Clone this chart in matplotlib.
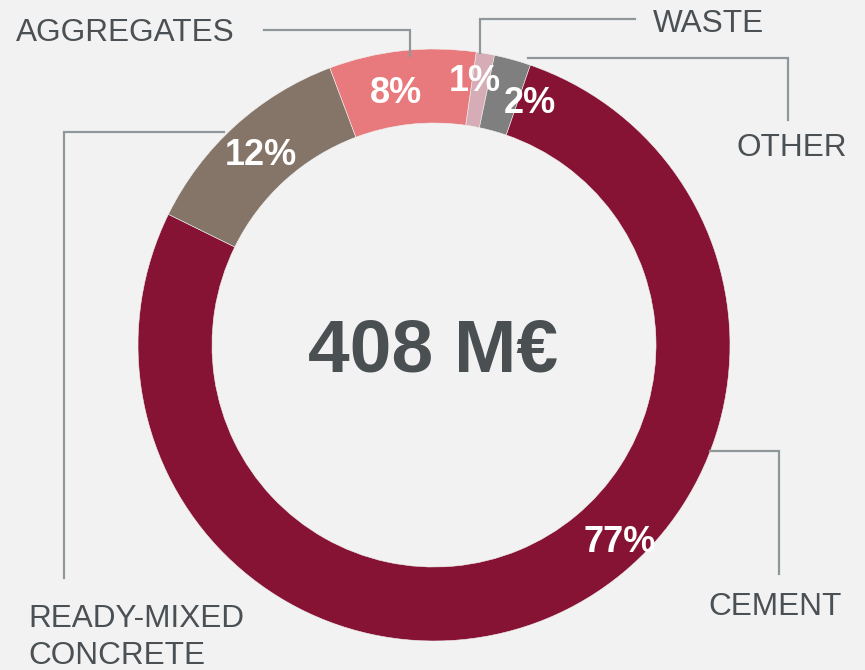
import matplotlib.pyplot as plt

plt.rcParams['font.family'] = ['Liberation Sans', 'DejaVu Sans']

# data (clockwise from just right of 12 o'clock)
categories = ['WASTE', 'OTHER', 'CEMENT', 'READY-MIXED\nCONCRETE', 'AGGREGATES']
shares = [1, 2, 77, 12, 8]
colors = ['#d6adb6', '#7f7f7f', '#861334', '#857568', '#e8797c']
total_label = '408 M€'

# layout in pixels (x, y from top-left of the 865x670 picture)
W, H = 865, 670
center = (434, 345)
radius = 296
ring = 74
pct_pos = [(475, 91), (530, 113), (620, 552), (261, 165), (396, 103)]
name_pos = [(653, 32), (736, 156), (708, 615), (28, 627), (16, 41)]
leaders = [
    [(635, 19), (480, 19), (480, 53)],
    [(528, 58), (788, 58), (788, 120)],
    [(710, 451), (779, 451), (779, 574)],
    [(224, 132), (64, 132), (64, 578)],
    [(264, 30), (410, 30), (410, 56)],
]

text_col = '#4a5053'
line_col = '#8f979a'
bg = '#f2f2f2'


def py(y):
    return H - y


fig = plt.figure(figsize=(W / 100, H / 100), dpi=100, facecolor=bg)
ax = fig.add_axes([0, 0, 1, 1])
ax.set_facecolor(bg)

wedges, _ = ax.pie(shares, colors=colors, startangle=81.8, counterclock=False,
                   center=(center[0], py(center[1])), radius=radius,
                   wedgeprops=dict(width=ring, edgecolor=bg, linewidth=0.4),
                   frame=True)
ax.set_xlim(0, W)
ax.set_ylim(0, H)
ax.set_aspect('equal')
ax.axis('off')

# percentage labels
for w, s, (x, y) in zip(wedges, shares, pct_pos):
    t = ax.text(x, py(y), f'{s}%', ha='center', va='baseline', color='white',
                fontsize=26, fontweight='bold')
    if s > 50:
        t.set_clip_path(w)

# category names with leader lines
for name, (x, y), pts in zip(categories, name_pos, leaders):
    for i, line in enumerate(name.split('\n')):
        ax.text(x, py(y + 37 * i), line, ha='left', va='baseline',
                color=text_col, fontsize=22.7)
    xs = [p[0] for p in pts]
    ys = [py(p[1]) for p in pts]
    ax.plot(xs, ys, color=line_col, linewidth=1.6, solid_joinstyle='miter')

ax.text(center[0] - 1, py(372), total_label, ha='center', va='baseline',
        color='#4a4f52', fontsize=54, fontweight='bold')

fig.savefig('out.png', dpi=100, facecolor=bg)
